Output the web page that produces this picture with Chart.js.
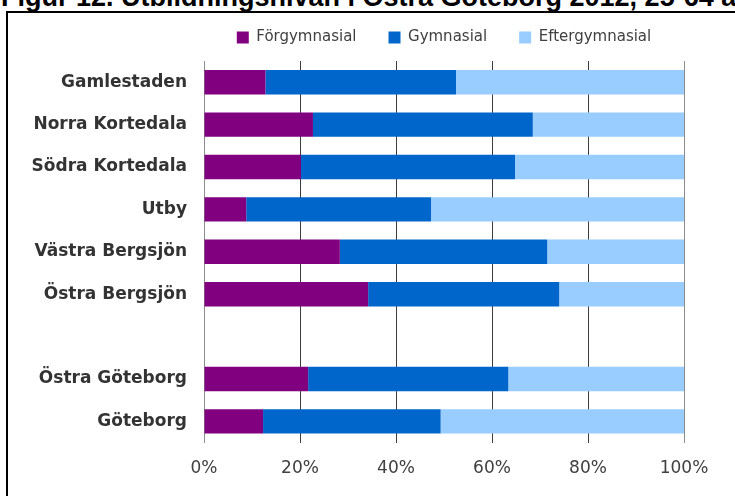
<!DOCTYPE html>
<html>
<head>
<meta charset="utf-8">
<script src="https://cdn.jsdelivr.net/npm/chart.js@4.4.1/dist/chart.umd.min.js"></script>
<style>
  html, body { margin: 0; padding: 0; background: #fff; width: 735px; height: 496px; overflow: hidden; position: relative; }
  #title { position: absolute; left: 1px; top: -16px; font: bold 27px "Liberation Sans", Arial, sans-serif; line-height: 27px; white-space: nowrap; color: #000; }
  #frame { position: absolute; left: 6px; top: 11px; width: 800px; height: 600px; border: 2px solid #000; }
  #chart { position: absolute; left: 0; top: -2px; }
</style>
</head>
<body>
<div id="title">Figur 12. Utbildningsnivån i Östra Göteborg 2012, 25-64 år</div>
<div id="frame"></div>
<canvas id="chart" width="735" height="498"></canvas>
<script>
//Categories (empty one is the gap row)
var areas = ["Gamlestaden", "Norra Kortedala", "Södra Kortedala", "Utby", "Västra Bergsjön", "Östra Bergsjön", "", "Östra Göteborg", "Göteborg"];
//Share in percent
var forgymnasial = [12.8, 22.7, 20.2, 8.8, 28.3, 34.2, null, 21.7, 12.3];
var gymnasial = [39.7, 45.8, 44.6, 38.5, 43.2, 39.8, null, 41.7, 37.0];
var eftergymnasial = [47.5, 31.5, 35.2, 52.7, 28.5, 26.0, null, 36.6, 50.7];
var tickValues = [0, 20, 40, 60, 80, 100];

Chart.defaults.font.family = "'DejaVu Sans', Verdana, sans-serif";

//Extra space under the legend
var legendGap = {
  id: 'legendGap',
  beforeInit(chart) {
    var origFit = chart.legend.fit;
    chart.legend.fit = function () {
      origFit.bind(chart.legend)();
      this.height += 6;
    };
  }
};

new Chart(document.getElementById("chart"), {
  type: 'bar',
  data: {
    labels: areas,
    datasets: [{
      label: 'Förgymnasial',
      data: forgymnasial,
      backgroundColor: '#800080'
    }, {
      label: 'Gymnasial',
      data: gymnasial,
      backgroundColor: '#0066CC'
    }, {
      label: 'Eftergymnasial',
      data: eftergymnasial,
      backgroundColor: '#99CCFF'
    }]
  },
  options: {
    indexAxis: 'y',
    responsive: false,
    animation: false,
    datasets: {
      bar: { categoryPercentage: 1, barPercentage: 0.575, borderWidth: 0 }
    },
    layout: { padding: { top: 0, right: 51, bottom: 1, left: 0 } },
    plugins: {
      tooltip: { enabled: false },
      legend: {
        position: 'top',
        fullSize: false,
        labels: {
          boxWidth: 12,
          boxHeight: 12,
          padding: 32,
          color: '#404040',
          font: { size: 15 }
        }
      }
    },
    scales: {
      x: {
        stacked: true,
        min: 0,
        max: 100,
        afterBuildTicks: function (scale) {
          scale.ticks = tickValues.map(function (v) { return { value: v }; });
        },
        grid: {
          drawTicks: false,
          color: function (ctx) {
            return (ctx.index === 0 || ctx.index === 5) ? '#8c8c8c' : '#3c3c3c';
          }
        },
        border: { display: false },
        ticks: {
          padding: 16,
          color: '#404040',
          font: { size: 17 },
          callback: function (v) { return v + '%'; }
        }
      },
      y: {
        stacked: true,
        afterFit: function (scale) { scale.width = 204; },
        grid: { display: false, drawTicks: false },
        border: { display: true, color: '#8c8c8c' },
        ticks: {
          padding: 17,
          color: '#333333',
          font: { size: 17, weight: 'bold' }
        }
      }
    }
  },
  plugins: [legendGap]
});
</script>
</body>
</html>
